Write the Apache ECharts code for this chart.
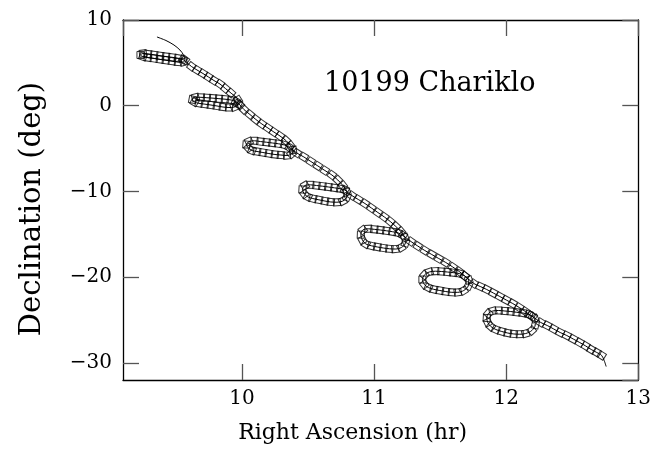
<!DOCTYPE html>
<html>
<head>
<meta charset="utf-8">
<script src="https://cdn.jsdelivr.net/npm/echarts@6/dist/echarts.min.js"></script>
<style>
html,body{margin:0;padding:0;background:#fff;}
#chart{width:654px;height:453px;}
</style>
</head>
<body>
<div id="chart"></div>
<script>
// Thin path before the first plotted date (no markers)
const leadRA  = [9.357, 9.425, 9.486, 9.531, 9.558];
const leadDec = [8.02, 7.61, 7.08, 6.50, 5.92];

// Plotted positions (square markers), in path order
const raHr = [
  9.569, 9.558, 9.516, 9.471, 9.425, 9.380, 9.335, 9.289, 9.251, 9.232, 9.251, 9.289, 9.335, 9.380, 9.425, 9.471, 9.516, 9.554,
  9.618, 9.660, 9.705, 9.747, 9.788, 9.834, 9.875, 9.917, 9.970,
  9.970, 9.943, 9.902, 9.856, 9.811, 9.766, 9.720, 9.675, 9.641, 9.626, 9.648, 9.690, 9.735, 9.781, 9.826, 9.872, 9.917, 9.955, 9.985,
  10.015, 10.061, 10.106, 10.151, 10.197, 10.242, 10.288, 10.333, 10.367, 10.386,
  10.375, 10.341, 10.295, 10.250, 10.204, 10.159, 10.114, 10.076, 10.049, 10.034, 10.053, 10.095, 10.140, 10.186, 10.231, 10.276, 10.322, 10.360,
  10.416, 10.469, 10.522, 10.575, 10.628, 10.681, 10.726, 10.764, 10.794,
  10.794, 10.764, 10.719, 10.673, 10.628, 10.583, 10.537, 10.499, 10.473, 10.458, 10.477, 10.518, 10.564, 10.609, 10.654, 10.700, 10.745, 10.779,
  10.832, 10.881, 10.931, 10.980, 11.029, 11.078, 11.123, 11.165, 11.203, 11.233,
  11.237, 11.207, 11.161, 11.116, 11.071, 11.025, 10.980, 10.938, 10.912, 10.900, 10.915, 10.957, 11.002, 11.048, 11.093, 11.139, 11.184, 11.218,
  11.279, 11.331, 11.384, 11.437, 11.490, 11.543, 11.596, 11.645, 11.687, 11.717,
  11.713, 11.679, 11.634, 11.589, 11.543, 11.498, 11.452, 11.411, 11.381, 11.366, 11.381, 11.418, 11.464, 11.509, 11.555, 11.600, 11.645, 11.687,
  11.755, 11.804, 11.853, 11.903, 11.952, 12.001, 12.050, 12.099, 12.145, 12.186, 12.216,
  12.220, 12.194, 12.148, 12.103, 12.058, 12.012, 11.967, 11.922, 11.884, 11.861, 11.853, 11.865, 11.899, 11.944, 11.990, 12.035, 12.080, 12.126, 12.171, 12.201,
  12.262, 12.311, 12.360, 12.409, 12.459, 12.508, 12.557, 12.602, 12.644, 12.686, 12.723
];
const decDeg = [
  5.33, 5.10, 5.10, 5.19, 5.30, 5.40, 5.51, 5.61, 5.73, 5.92, 6.09, 6.03, 5.94, 5.83, 5.74, 5.65, 5.54, 5.39,
  4.58, 4.17, 3.76, 3.35, 2.94, 2.53, 2.01, 1.48, 0.67,
  0.20, -0.15, -0.21, -0.15, -0.03, 0.08, 0.18, 0.28, 0.43, 0.72, 0.98, 0.98, 0.93, 0.88, 0.82, 0.76, 0.67, 0.49, 0.08,
  -0.44, -1.03, -1.61, -2.13, -2.60, -3.07, -3.53, -4.06, -4.64, -5.17,
  -5.63, -5.81, -5.75, -5.69, -5.58, -5.46, -5.34, -5.23, -4.93, -4.53, -4.18, -4.09, -4.18, -4.26, -4.35, -4.44, -4.58, -4.88,
  -5.52, -5.98, -6.51, -7.03, -7.56, -8.08, -8.67, -9.31, -10.07,
  -10.65, -11.12, -11.26, -11.23, -11.12, -10.98, -10.83, -10.63, -10.30, -9.78, -9.31, -9.23, -9.31, -9.39, -9.48, -9.58, -9.69, -9.83,
  -10.48, -10.94, -11.41, -11.93, -12.46, -12.98, -13.51, -14.09, -14.68, -15.38,
  -16.02, -16.54, -16.72, -16.69, -16.60, -16.48, -16.34, -16.13, -15.67, -15.03, -14.50, -14.36, -14.42, -14.50, -14.59, -14.70, -14.85, -15.14,
  -15.84, -16.37, -16.89, -17.36, -17.83, -18.29, -18.82, -19.34, -19.87, -20.33,
  -21.03, -21.56, -21.77, -21.77, -21.68, -21.56, -21.42, -21.21, -20.86, -20.28, -19.75, -19.40, -19.31, -19.34, -19.40, -19.48, -19.58, -19.87,
  -20.74, -21.09, -21.44, -21.85, -22.26, -22.67, -23.08, -23.54, -24.01, -24.48, -24.83,
  -25.58, -26.23, -26.58, -26.66, -26.63, -26.52, -26.34, -26.11, -25.76, -25.29, -24.77, -24.24, -23.95, -23.89, -23.95, -24.01, -24.10, -24.18, -24.36, -24.59,
  -25.29, -25.64, -26.05, -26.46, -26.81, -27.22, -27.63, -28.03, -28.44, -28.79, -29.14
];

// Thin path after the last plotted date (no markers)
const trailRA  = [12.742, 12.757];
const trailDec = [-29.73, -30.43];

const xTickLabels = ['10', '11', '12', '13'];
const yTickLabels = ['\u221230', '\u221220', '\u221210', '0', '10'];

const xTitle = 'Right Ascension (hr)';
const yTitle = 'Declination (deg)';
const objectName = '10199 Chariklo';

const FONT = 'DejaVu Serif';

const markPts = raHr.map((r, i) => [r, decDeg[i]]);
const pathPts = leadRA.map((r, i) => [r, leadDec[i]])
  .concat(markPts)
  .concat(trailRA.map((r, i) => [r, trailDec[i]]));

function fmtY(v) {
  const s = v < 0 ? '\u2212' + Math.abs(v) : String(v);
  return yTickLabels.indexOf(s) >= 0 ? s : '';
}
function fmtX(v) {
  const s = String(v);
  return xTickLabels.indexOf(s) >= 0 ? s : '';
}

const axisLineStyle = { color: '#000', width: 1.3 };
const tickStyle = { color: '#555', width: 1.3 };

function xAx(pos, withLabels) {
  return {
    type: 'value', min: 9.1, max: 13, splitNumber: 4, position: pos,
    axisLine: { show: true, onZero: false, lineStyle: axisLineStyle },
    axisTick: { show: true, inside: true, length: 16, lineStyle: tickStyle },
    axisLabel: { show: withLabels, showMinLabel: false, margin: 9, color: '#000',
      fontFamily: FONT, fontSize: 20, formatter: fmtX },
    splitLine: { show: false },
    name: withLabels ? xTitle : '', nameLocation: 'middle', nameGap: 42,
    nameTextStyle: { color: '#000', fontFamily: FONT, fontSize: 22, padding: [0, 56, 0, 0] }
  };
}
function yAx(pos, withLabels) {
  return {
    type: 'value', min: -32, max: 10, splitNumber: 4, position: pos,
    axisLine: { show: true, onZero: false, lineStyle: axisLineStyle },
    axisTick: { show: true, inside: true, length: 16, lineStyle: tickStyle },
    axisLabel: { show: withLabels, showMinLabel: false, margin: 11, color: '#000',
      fontFamily: FONT, fontSize: 20, formatter: fmtY },
    splitLine: { show: false },
    name: withLabels ? yTitle : '', nameLocation: 'middle', nameGap: 76,
    nameTextStyle: { color: '#000', fontFamily: FONT, fontSize: 29, padding: [0, 18, 0, 0] }
  };
}

const chart = echarts.init(document.getElementById('chart'), null, { renderer: 'canvas' });
chart.setOption({
  animation: false,
  backgroundColor: '#fff',
  grid: { left: 123, right: 15.5, top: 20, bottom: 73 },
  xAxis: [xAx('bottom', true), xAx('top', false)],
  yAxis: [yAx('left', true), yAx('right', false)],
  graphic: [{
    type: 'text', left: 324, top: 70, silent: true,
    style: { text: objectName, fill: '#000', font: '27px "DejaVu Serif"' }
  }],
  series: [
    {
      id: 'path', type: 'line', xAxisIndex: 0, yAxisIndex: 0,
      data: pathPts, showSymbol: false, symbol: 'none', smooth: 0.3,
      lineStyle: { color: '#000', width: 1 }, silent: true, z: 2
    },
    {
      id: 'marks', type: 'scatter', xAxisIndex: 0, yAxisIndex: 0,
      data: markPts, symbol: 'rect', symbolSize: 7,
      itemStyle: { color: 'rgba(0,0,0,0)', borderColor: '#000', borderWidth: 1 },
      silent: true, z: 3
    }
  ]
});

// Orient each square along the local direction of motion (screen space)
const px = markPts.map(p => chart.convertToPixel({ gridIndex: 0 }, p));
const rotated = markPts.map((p, i) => {
  const a = px[Math.max(0, i - 1)], b = px[Math.min(px.length - 1, i + 1)];
  const ang = Math.atan2(b[1] - a[1], b[0] - a[0]) * 180 / Math.PI;
  return { value: p, symbolRotate: -ang };
});
chart.setOption({ series: [{ id: 'path' }, { id: 'marks', data: rotated }] });
</script>
</body>
</html>
